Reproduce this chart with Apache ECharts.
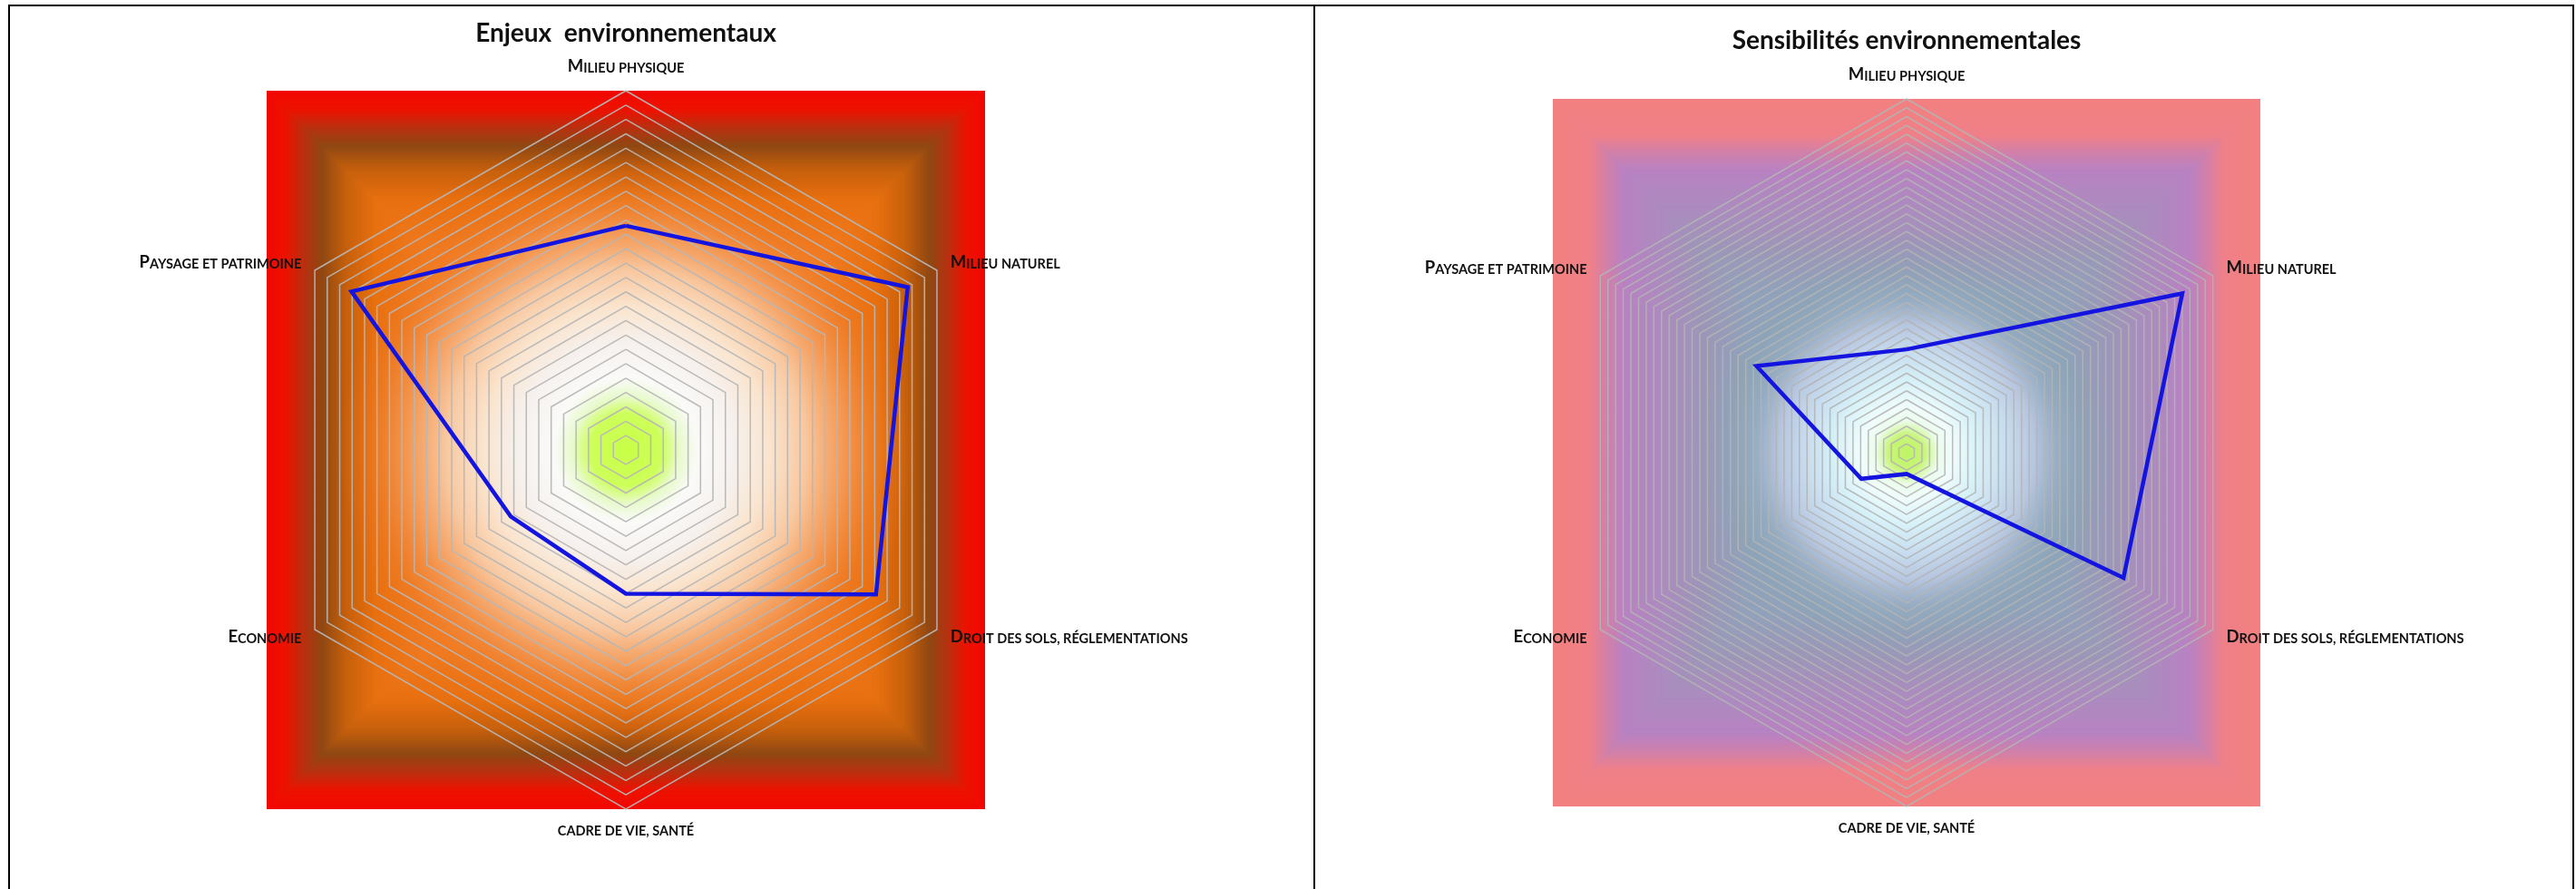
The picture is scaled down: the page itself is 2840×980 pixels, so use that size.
<!DOCTYPE html>
<html><head><meta charset="utf-8">
<script src="https://cdn.jsdelivr.net/npm/echarts@6/dist/echarts.min.js"></script>
<style>html,body{margin:0;padding:0;background:#fff}#c{width:2840px;height:980px}</style>
</head><body><div id="c"></div>
<script>
// ---- data (indicators listed counter-clockwise from the top, as ECharts lays them out)
const categories = ['Milieu physique', 'Paysage et patrimoine', 'Economie', 'cadre de vie, santé', 'Droit des sols, réglementations', 'Milieu naturel'];
const titles = ['Enjeux  environnementaux', 'Sensibilités environnementales'];
const enjeuxValues = [3.12, 4.41, 1.85, 2.0, 4.02, 4.53];
const sensibiliteValues = [1.46, 2.45, 0.74, 0.3, 3.54, 4.5];
const axisMax = 5;
const ringCounts = [25, 40];

// ---- layout / style
const panels = [
  {cx: 690, cy: 496, r: 396, titleY: 37},
  {cx: 2102, cy: 499, r: 390, titleY: 45}
];
const squareStops = [
  [[0,'#f08a38'],[0.55,'#f07a20'],[0.70,'#e8700f'],[0.78,'#c8600c'],[0.85,'#8f4812'],[0.90,'#b83010'],[0.95,'#ec1200'],[1,'#f20800']],
  [[0,'#90a6bc'],[0.45,'#90a2ba'],[0.58,'#9c96b8'],[0.68,'#aa8cbe'],[0.8,'#b882c2'],[0.85,'#d080aa'],[0.9,'#f08088'],[1,'#f28080']]
];
const radialStops = [
  [[0,'rgba(200,255,70,1)'],[0.1,'rgba(205,255,90,1)'],[0.15,'rgba(232,250,205,1)'],[0.2,'rgba(250,250,248,1)'],[0.3,'rgba(246,241,238,1)'],[0.4,'rgba(250,228,205,1)'],[0.5,'rgba(248,200,160,1)'],[0.6,'rgba(245,165,105,0.8)'],[0.72,'rgba(240,130,50,0.3)'],[0.8,'rgba(240,120,40,0)'],[1,'rgba(240,120,40,0)']],
  [[0,'rgba(190,245,100,1)'],[0.05,'rgba(200,245,120,1)'],[0.09,'rgba(235,252,235,1)'],[0.13,'rgba(240,252,252,1)'],[0.2,'rgba(215,242,248,1)'],[0.28,'rgba(200,222,240,1)'],[0.36,'rgba(185,200,225,0.95)'],[0.44,'rgba(150,176,196,0.6)'],[0.52,'rgba(136,168,180,0.35)'],[0.6,'rgba(140,160,190,0)'],[1,'rgba(140,160,190,0)']]
];
const ringColors = ['rgba(182,182,182,0.95)', 'rgba(180,180,180,0.9)'];

function hexRgb(h){h=h.replace('#','');return [0,2,4].map(i=>parseInt(h.slice(i,i+2),16));}
function colorAt(stops,t){
  for(let i=1;i<stops.length;i++){
    if(t<=stops[i][0]){
      const a=stops[i-1],b=stops[i];const f=(t-a[0])/(b[0]-a[0]||1);
      const ca=hexRgb(a[1]),cb=hexRgb(b[1]);
      return 'rgb('+ca.map((v,k)=>Math.round(v+(cb[k]-v)*f)).join(',')+')';
    }
  }
  return stops[stops.length-1][1];
}
function smallCaps(name){
  let out='',cur=null,buf='';
  for(const ch of name){
    const up=ch.toUpperCase();
    const isCap=ch===up&&ch!==ch.toLowerCase();
    const st=isCap?'a':'b';
    if(st!==cur&&buf){out+='{'+cur+'|'+buf+'}';buf='';}
    cur=st;buf+=up;
  }
  if(buf)out+='{'+cur+'|'+buf+'}';
  return out;
}

const graphics=[];
panels.forEach((p,pi)=>{
  const steps=140;
  for(let s=steps;s>=1;s--){
    const t=s/steps;const h=p.r*t;
    graphics.push({type:'rect',z:0,silent:true,shape:{x:p.cx-h,y:p.cy-h,width:2*h,height:2*h},style:{fill:colorAt(squareStops[pi],t)}});
  }
  graphics.push({type:'rect',z:0,silent:true,shape:{x:p.cx-p.r,y:p.cy-p.r,width:2*p.r,height:2*p.r},
    style:{fill:new echarts.graphic.RadialGradient(0.5,0.5,0.5,radialStops[pi].map(s=>({offset:s[0],color:s[1]})))}});
  graphics.push({type:'text',z:10,x:p.cx,y:p.titleY,style:{text:titles[pi],align:'center',verticalAlign:'middle',font:'bold 28px Lato',fill:'#111'}});
});
// panel frame
graphics.push({type:'polyline',z:10,shape:{points:[[10,980],[10,6],[2837,6],[2837,980]]},style:{stroke:'#000',lineWidth:2,fill:null}});
graphics.push({type:'line',z:10,shape:{x1:1449,y1:6,x2:1449,y2:980},style:{stroke:'#000',lineWidth:2}});

const rich={
  a:{fontFamily:'Lato',fontWeight:'bold',fontSize:18.5,color:'#111',verticalAlign:'bottom'},
  b:{fontFamily:'Lato',fontWeight:'bold',fontSize:14.5,color:'#111',verticalAlign:'bottom'}
};
const radars=panels.map((p,pi)=>({
  center:[p.cx,p.cy],radius:p.r,startAngle:90,shape:'polygon',splitNumber:ringCounts[pi],z:5,
  indicator:categories.map(n=>({name:n,min:0,max:axisMax})),
  axisName:{formatter:smallCaps,rich:rich},
  nameGap:17,
  splitLine:{lineStyle:{color:ringColors[pi],width:1.5}},
  splitArea:{show:false},
  axisLine:{show:false},axisTick:{show:false},axisLabel:{show:false}
}));
const chart=echarts.init(document.getElementById('c'),null,{renderer:'canvas'});
chart.setOption({
  animation:false,
  backgroundColor:'#fff',
  graphic:{elements:graphics},
  radar:radars,
  series:[enjeuxValues,sensibiliteValues].map((v,i)=>({
    type:'radar',radarIndex:i,z:6,symbol:'none',
    lineStyle:{color:'#1414e0',width:4.5,join:'miter'},
    data:[{value:v,name:titles[i]}]
  }))
});
</script></body></html>
